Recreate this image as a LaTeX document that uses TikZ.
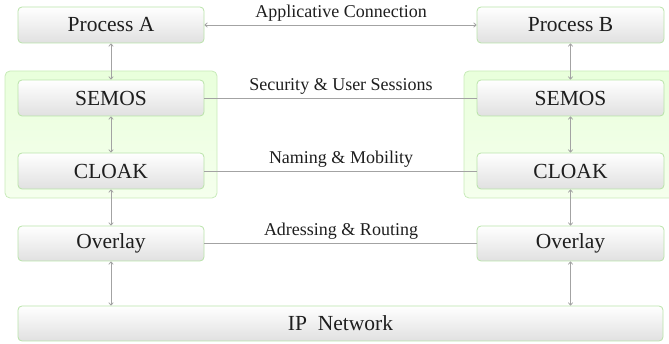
\documentclass[tikz,border=0pt]{standalone}
\usepackage{fontspec}
\setmainfont{Liberation Serif}
\usetikzlibrary{arrows.meta}
\definecolor{edgegreen}{HTML}{B9E3A9}
\definecolor{groupgreen}{HTML}{C8EBB9}
\definecolor{linkgray}{HTML}{A3A3A3}
\definecolor{inkdark}{HTML}{1E1E1E}
\begin{document}
\begin{tikzpicture}[x=1pt,y=-1pt,
  layerbox/.style={draw=edgegreen,line width=0.8pt,rounded corners=4pt,
    top color=white,bottom color=black!12,
    minimum width=186pt,minimum height=36pt,inner sep=0pt,
    text=inkdark,font=\fontsize{21.5}{24}\selectfont},
  groupbox/.style={draw=groupgreen,line width=0.8pt,rounded corners=5pt,
    top color=green!50!lime!14,bottom color=green!40!lime!7,
    inner sep=0pt},
  linklabel/.style={anchor=base,text=inkdark,inner sep=0pt,
    font=\fontsize{18}{21}\selectfont},
  link/.style={draw=linkgray,line width=0.8pt},
  twoway/.style={link,{Straight Barb[length=2.4pt,width=4.5pt]}-{Straight Barb[length=2.4pt,width=4.5pt]}}
]
\useasboundingbox (0,0) rectangle (669,344);

% grouping panels behind SEMOS and CLOAK
\node[groupbox,minimum width=212pt,minimum height=127pt] (grpA) at (111,134.5) {};
\node[groupbox,minimum width=213pt,minimum height=127pt] (grpB) at (570.5,134.5) {};

% left stack
\node[layerbox] (procA) at (111,25) {Process A};
\node[layerbox] (semosA) at (111,98) {SEMOS};
\node[layerbox] (cloakA) at (111,171) {CLOAK};
\node[layerbox,minimum height=35pt] (ovA) at (111,243.5) {Overlay};

% right stack
\node[layerbox,minimum width=187pt] (procB) at (570.5,25) {Process B};
\node[layerbox,minimum width=187pt] (semosB) at (570.5,98) {SEMOS};
\node[layerbox,minimum width=187pt] (cloakB) at (570.5,171) {CLOAK};
\node[layerbox,minimum width=187pt,minimum height=35pt] (ovB) at (570.5,243.5) {Overlay};

% shared network
\node[layerbox,minimum width=645pt,minimum height=35pt] (ipnet) at (340.5,323.5) {IP\ \ Network};

% vertical links inside each stack
\foreach \u/\l in {procA/semosA,semosA/cloakA,cloakA/ovA,procB/semosB,semosB/cloakB,cloakB/ovB}
  \draw[twoway] (\u.south) -- (\l.north);
\draw[twoway] (ovA.south) -- (ovA.south |- ipnet.north);
\draw[twoway] (ovB.south) -- (ovB.south |- ipnet.north);

% peer-to-peer links
\draw[twoway] (procA.east) -- (procB.west);
\draw[link] (semosA.east) -- (semosB.west);
\draw[link] (cloakA.east) -- (cloakB.west);
\draw[link] (ovA.east) -- (ovB.west);

% link labels
\node[linklabel] (lblApp) at (341,18) {Applicative Connection};
\node[linklabel] (lblSec) at (341,91) {Security \& User Sessions};
\node[linklabel] (lblNam) at (341,164) {Naming \& Mobility};
\node[linklabel] (lblAdr) at (341,236) {Adressing \& Routing};
\end{tikzpicture}
\end{document}
